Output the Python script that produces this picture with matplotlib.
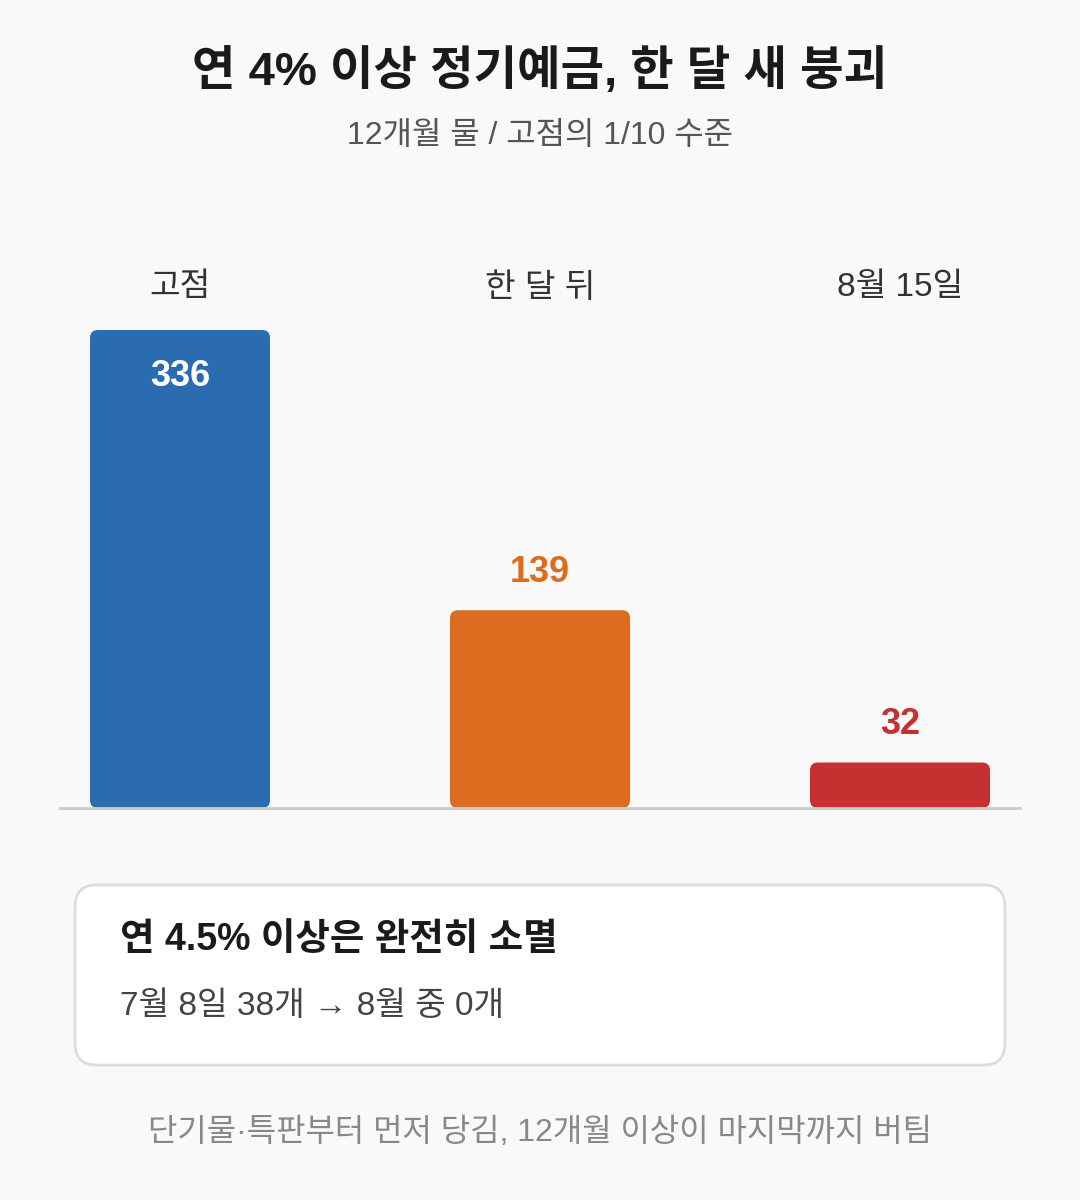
import matplotlib
matplotlib.use("Agg")
import matplotlib.pyplot as plt
from matplotlib.patches import FancyBboxPatch

plt.rcParams['font.family'] = ['Liberation Sans', 'Noto Sans CJK KR', 'DejaVu Sans']

categories = ["고점", "한 달 뒤", "8월 15일"]
values = [336, 139, 32]
colors = ["#2b6cb0", "#dd6b20", "#c53030"]

W, H = 1080, 1200
fig = plt.figure(figsize=(W/100, H/100), dpi=100)
fig.patch.set_facecolor("#f9f9f9")

def px(x, y):
    return x / W, 1 - y / H

ax = fig.add_axes([60/W, (H-808)/H, 960/W, 478/H])
ax.set_facecolor("none")
ax.set_xlim(-1/3, 7/3)
ax.set_ylim(0, 336)
for s in ax.spines.values():
    s.set_visible(False)
ax.set_xticks([]); ax.set_yticks([])
ax.axhline(0, color="#cccccc", lw=2, clip_on=False)

aspect = (336/478) / (1/360)
for i, (v, c) in enumerate(zip(values, colors)):
    p = FancyBboxPatch((i-0.25, 0), 0.5, v, boxstyle="round,pad=0,rounding_size=0.022",
                       mutation_aspect=aspect, fc=c, ec="none")
    ax.add_patch(p)
    if i == 0:
        ax.annotate(str(v), (i, v), xytext=(0, -47), textcoords="offset pixels",
                    ha="center", va="center", color="white", fontsize=26, fontweight="bold")
    else:
        ax.annotate(str(v), (i, v), xytext=(0, 38), textcoords="offset pixels",
                    ha="center", va="center", color=c, fontsize=26, fontweight="bold")
    fig.text(*px(180 + 360*i, 288), categories[i], ha="center", va="center",
             fontsize=24, color="#333333")

fig.text(*px(540, 72), "연 4% 이상 정기예금, 한 달 새 붕괴", ha="center", va="center",
         fontsize=34, fontweight="bold", color="#1a1a1a")
fig.text(*px(540, 136), "12개월 물 / 고점의 1/10 수준", ha="center", va="center",
         fontsize=23, color="#555555")

box = FancyBboxPatch((75/W, (H-1065)/H), 930/W, 180/H,
                     boxstyle="round,pad=0,rounding_size=0.02", transform=fig.transFigure,
                     fc="white", ec="#dddddd", lw=2, mutation_aspect=W/H)
fig.add_artist(box)
fig.text(*px(120, 940), "연 4.5% 이상은 완전히 소멸", ha="left", va="center",
         fontsize=27, fontweight="bold", color="#1a1a1a")
fig.text(*px(120, 1006), "7월 8일 38개 → 8월 중 0개", ha="left", va="center",
         fontsize=24, color="#444444")
fig.text(*px(540, 1133), "단기물·특판부터 먼저 당김, 12개월 이상이 마지막까지 버팀", ha="center",
         va="center", fontsize=23, color="#888888")

fig.savefig("out.png", dpi=100, facecolor=fig.get_facecolor())
